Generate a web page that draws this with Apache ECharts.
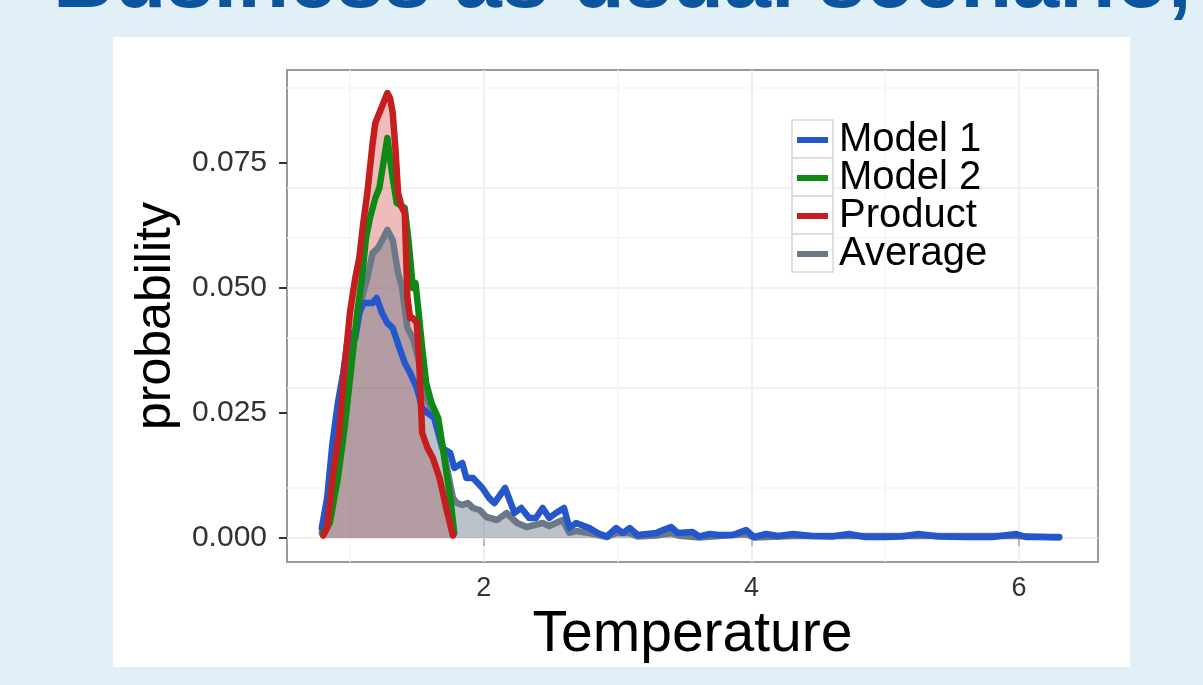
<!DOCTYPE html>
<html>
<head>
<meta charset="utf-8">
<script src="https://cdn.jsdelivr.net/npm/echarts@6/dist/echarts.min.js"></script>
<style>
html,body{margin:0;padding:0;background:#e1eff6;}
#chart{width:1203px;height:685px;}
</style>
</head>
<body>
<div id="chart"></div>
<script>
// ---- data (Temperature, probability) ----
const seriesNames = ['Model 1', 'Model 2', 'Product', 'Average'];
const model1 = [[0.79,0.002],[0.83,0.008],[0.87,0.019],[0.91,0.027],[0.95,0.033],[0.98,0.039],[1.01,0.041],[1.04,0.040],[1.07,0.045],[1.10,0.047],[1.14,0.047],[1.17,0.047],[1.20,0.048],[1.24,0.045],[1.28,0.043],[1.32,0.042],[1.37,0.038],[1.41,0.035],[1.45,0.033],[1.50,0.030],[1.54,0.026],[1.58,0.025],[1.63,0.024],[1.67,0.020],[1.69,0.018],[1.75,0.017],[1.78,0.014],[1.84,0.015],[1.87,0.012],[1.92,0.012],[1.99,0.010],[2.04,0.008],[2.08,0.007],[2.16,0.010],[2.23,0.005],[2.28,0.006],[2.34,0.004],[2.39,0.004],[2.44,0.006],[2.49,0.004],[2.54,0.005],[2.60,0.006],[2.64,0.002],[2.69,0.003],[2.79,0.002],[2.85,0.001],[2.92,0.0003],[2.99,0.002],[3.04,0.001],[3.09,0.002],[3.15,0.0006],[3.22,0.0008],[3.29,0.001],[3.34,0.0016],[3.40,0.0022],[3.45,0.001],[3.56,0.0012],[3.61,0.0003],[3.69,0.0008],[3.76,0.0006],[3.86,0.0006],[3.96,0.0016],[4.02,0.0002],[4.11,0.0008],[4.20,0.0004],[4.31,0.0008],[4.45,0.0004],[4.60,0.0003],[4.73,0.0008],[4.85,0.0002],[5.00,0.0002],[5.12,0.0003],[5.25,0.0008],[5.40,0.0003],[5.60,0.0002],[5.80,0.0002],[5.98,0.0008],[6.05,0.0002],[6.30,0.0002]];
const model2 = [[0.80,0.001],[0.85,0.003],[0.91,0.012],[0.96,0.022],[1.01,0.034],[1.05,0.044],[1.07,0.048],[1.09,0.052],[1.12,0.060],[1.15,0.064],[1.19,0.068],[1.22,0.070],[1.28,0.080],[1.30,0.076],[1.32,0.072],[1.35,0.067],[1.41,0.066],[1.44,0.059],[1.47,0.050],[1.49,0.051],[1.51,0.046],[1.54,0.038],[1.57,0.031],[1.61,0.027],[1.66,0.024],[1.70,0.017],[1.75,0.008],[1.78,0.001]];
const product = [[0.80,0.0005],[0.83,0.002],[0.85,0.007],[0.88,0.014],[0.92,0.021],[0.96,0.034],[1.00,0.045],[1.04,0.052],[1.07,0.056],[1.10,0.063],[1.13,0.069],[1.17,0.079],[1.19,0.083],[1.22,0.085],[1.25,0.087],[1.28,0.089],[1.30,0.088],[1.32,0.085],[1.34,0.078],[1.36,0.069],[1.39,0.066],[1.41,0.065],[1.43,0.048],[1.45,0.044],[1.47,0.044],[1.50,0.043],[1.52,0.034],[1.54,0.021],[1.58,0.018],[1.62,0.016],[1.67,0.012],[1.72,0.006],[1.77,0.0005]];
const average = [[0.79,0.001],[0.83,0.005],[0.87,0.013],[0.91,0.020],[0.96,0.028],[1.01,0.037],[1.05,0.042],[1.09,0.048],[1.13,0.052],[1.17,0.057],[1.21,0.058],[1.25,0.060],[1.28,0.0616],[1.32,0.0596],[1.36,0.053],[1.39,0.050],[1.43,0.042],[1.47,0.040],[1.52,0.035],[1.57,0.028],[1.62,0.025],[1.66,0.022],[1.70,0.0175],[1.74,0.012],[1.77,0.008],[1.80,0.007],[1.84,0.0066],[1.88,0.007],[1.92,0.006],[1.97,0.0056],[2.02,0.0042],[2.10,0.0036],[2.17,0.005],[2.25,0.003],[2.32,0.0022],[2.38,0.0026],[2.44,0.003],[2.49,0.0024],[2.54,0.003],[2.59,0.0036],[2.64,0.001],[2.69,0.0014],[2.79,0.001],[2.92,0.0002],[2.99,0.001],[3.09,0.001],[3.15,0.0003],[3.29,0.0005],[3.40,0.001],[3.45,0.0005],[3.61,0.0001],[3.96,0.0008],[4.02,0.0001],[4.31,0.0004],[4.73,0.0004],[5.25,0.0004],[5.98,0.0004],[6.30,0.0001]];

// ---- axes / ticks ----
const xTicks = [2, 4, 6];
const xMinorGrid = [1, 3, 5];
const yTicks = [0, 0.025, 0.05, 0.075];
const yTickLabels = ['0.000', '0.025', '0.050', '0.075'];
const yMinorGrid = [0.0125, 0.0375, 0.0625, 0.0875];
const xRange = [0.53, 6.59];
const yRange = [-0.0048, 0.0936];

const colors = {'Model 1':'#2456cc','Model 2':'#0e8a14','Product':'#c41e1e','Average':'#6b7888'};
const FONT = '"Liberation Sans", Arial, Helvetica, sans-serif';

const chart = echarts.init(document.getElementById('chart'));

const legendLeft = 792, legendTop = 115, legendRow = 38, boxTop = 120;

const gridLines = [];
xTicks.forEach(v => gridLines.push({xAxis: v, lineStyle: {color: '#ebebeb', width: 1.5, type: 'solid'}}));
yTicks.forEach(v => gridLines.push({yAxis: v, lineStyle: {color: '#ebebeb', width: 1.5, type: 'solid'}}));
xMinorGrid.forEach(v => gridLines.push({xAxis: v, lineStyle: {color: '#f6f6f6', width: 1.5, type: 'solid'}}));
yMinorGrid.forEach(v => gridLines.push({yAxis: v, lineStyle: {color: '#f6f6f6', width: 1.5, type: 'solid'}}));

function lineSeries(name, data, z) {
  return {
    name: name, type: 'line', data: data, z: z,
    symbol: 'none', smooth: false,
    lineStyle: {color: colors[name], width: 6.5, join: 'round', cap: 'round'},
    itemStyle: {color: colors[name]},
    emphasis: {disabled: true}
  };
}
function areaSeries(name, data, color, z) {
  return {
    name: name, type: 'line', data: data, z: z,
    symbol: 'none', lineStyle: {width: 0, opacity: 0},
    areaStyle: {color: color, opacity: 1, origin: 0},
    emphasis: {disabled: true}
  };
}

const keyBoxes = seriesNames.map((n, i) => ({
  type: 'rect', z: 5,
  shape: {x: legendLeft, y: boxTop + i * legendRow, width: 41, height: legendRow},
  style: {fill: '#ffffff', stroke: '#d6d6d6', lineWidth: 1.5}
}));

chart.setOption({
  animation: false,
  backgroundColor: '#e1eff6',
  title: {
    text: 'Business as usual scenario,',
    left: 48, top: -64,
    textStyle: {fontFamily: FONT, fontSize: 85, fontWeight: 'bold', color: '#0c559e', lineHeight: 85}
  },
  graphic: [
    {type: 'rect', z: -100, shape: {x: 113, y: 37, width: 1017, height: 630}, style: {fill: '#ffffff'}},
    ...keyBoxes
  ],
  legend: {
    data: seriesNames,
    orient: 'vertical',
    left: legendLeft, top: legendTop,
    itemWidth: 31, itemHeight: 6, itemGap: -2,
    icon: 'rect',
    z: 10,
    selectedMode: false,
    textStyle: {fontFamily: FONT, fontSize: 40, lineHeight: 40, color: '#000', padding: [0, 0, 0, 6]}
  },
  grid: {
    left: 287, right: 105, top: 70, bottom: 123,
    show: true, backgroundColor: '#ffffff', borderColor: '#9a9a9a', borderWidth: 2
  },
  xAxis: {
    type: 'value', min: xRange[0], max: xRange[1],
    axisLine: {show: false},
    axisTick: {show: true, length: 8, customValues: xTicks, lineStyle: {color: '#333', width: 2}},
    axisLabel: {customValues: xTicks, fontFamily: FONT, fontSize: 27, color: '#333', margin: 13},
    splitLine: {show: false},
    name: 'Temperature', nameLocation: 'middle', nameGap: 33,
    nameTextStyle: {fontFamily: FONT, fontSize: 57, color: '#000'}
  },
  yAxis: {
    type: 'value', min: yRange[0], max: yRange[1],
    axisLine: {show: false},
    axisTick: {show: true, length: 8, customValues: yTicks, lineStyle: {color: '#333', width: 2}},
    axisLabel: {customValues: yTicks, fontFamily: FONT, fontSize: 30, color: '#333', margin: 20,
      formatter: v => { const i = yTicks.findIndex(t => Math.abs(t - v) < 1e-9); return i >= 0 ? yTickLabels[i] : ''; }},
    splitLine: {show: false},
    name: 'probability', nameLocation: 'middle', nameGap: 105,
    nameTextStyle: {fontFamily: FONT, fontSize: 50, color: '#000'}
  },
  series: [
    lineSeries('Average', average, 4),
    lineSeries('Model 1', model1, 4),
    lineSeries('Model 2', model2, 4),
    lineSeries('Product', product, 4),
    areaSeries('Product', product, 'rgba(200,32,31,0.30)', 2),
    areaSeries('Average', average, 'rgba(107,120,136,0.45)', 3),
    {
      name: 'grid', type: 'line', data: [], z: 1, silent: true,
      markLine: {z: 1, silent: true, symbol: ['none', 'none'], label: {show: false}, animation: false, data: gridLines}
    }
  ]
});
</script>
</body>
</html>
